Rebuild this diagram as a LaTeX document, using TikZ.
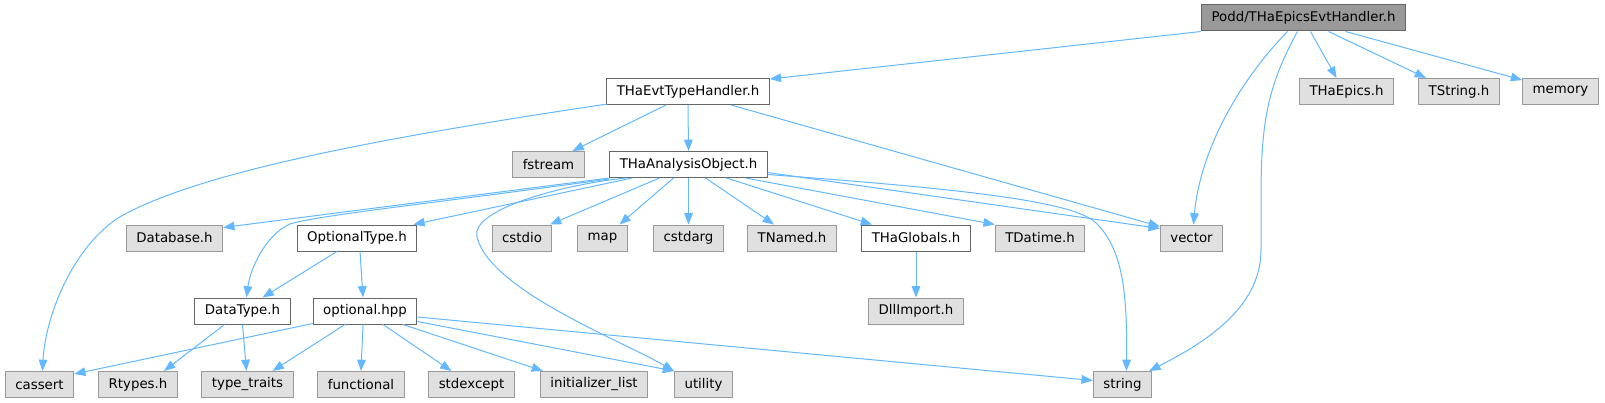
\documentclass[tikz,border=0pt]{standalone}
\usepackage{fontspec}
\setmainfont{DejaVu Sans}
\usepackage{tikz}
\usetikzlibrary{arrows.meta,calc}

\definecolor{incblue}{HTML}{63B8FF}
\definecolor{sysfill}{HTML}{E0E0E0}
\definecolor{sysline}{HTML}{999999}
\definecolor{projline}{HTML}{666666}

\tikzset{
  hfile/.style={draw, line width=0.75pt, inner xsep=7.5pt, inner ysep=0pt,
    minimum height=19.5pt, anchor=center},
  sysfile/.style={hfile, draw=sysline, fill=sysfill},
  projfile/.style={hfile, draw=projline, fill=white},
  rootfile/.style={hfile, draw=projline, fill=sysline},
  incl/.style={draw=incblue, line width=0.75pt,
    -{Triangle[length=8.5pt,width=6.5pt]}}
}

\begin{document}
\begin{tikzpicture}[x=0.75pt,y=-0.75pt,font=\fontsize{10}{12}\selectfont]
  \useasboundingbox (0,0) rectangle (1605,403);

  \node[rootfile] (root) at (1303.5,18) {Podd/THaEpicsEvtHandler.h};

  \node[projfile] (evttype) at (688,91.5) {THaEvtTypeHandler.h};
  \node[sysfile] (epics) at (1346.5,91.5) {THaEpics.h};
  \node[sysfile] (tstring) at (1459,91.5) {TString.h};
  \node[sysfile] (memory) at (1560.5,91.5) {memory};

  \node[sysfile] (fstream) at (548.5,164.5) {fstream};
  \node[projfile] (anaobj) at (688.5,164.5) {THaAnalysisObject.h};

  \node[sysfile] (database) at (174.5,238) {Database.h};
  \node[projfile] (opttype) at (357,238) {OptionalType.h};
  \node[sysfile] (cstdio) at (522,238) {cstdio};
  \node[sysfile] (map) at (602.5,238) {map};
  \node[sysfile] (cstdarg) at (688.5,238) {cstdarg};
  \node[sysfile] (tnamed) at (792,238) {TNamed.h};
  \node[projfile] (globals) at (916,238) {THaGlobals.h};
  \node[sysfile] (tdatime) at (1040,238) {TDatime.h};
  \node[sysfile] (vector) at (1191.5,238) {vector};

  \node[projfile] (datatype) at (242.5,311) {DataType.h};
  \node[projfile] (optional) at (365,311) {optional.hpp};
  \node[sysfile] (dllimport) at (916,311) {DllImport.h};

  \node[sysfile] (cassert) at (39.5,384.5) {cassert};
  \node[sysfile] (rtypes) at (138,384.5) {Rtypes.h};
  \node[sysfile] (typetraits) at (247.5,384.5) {type\_traits};
  \node[sysfile] (functional) at (361,384.5) {functional};
  \node[sysfile] (stdexcept) at (471.5,384.5) {stdexcept};
  \node[sysfile] (initlist) at (594,384.5) {initializer\_list};
  \node[sysfile] (utility) at (703.5,384.5) {utility};
  \node[sysfile] (string) at (1122.5,384.5) {string};

  \draw[incl] (root.south west) -- ($(evttype.north east)+(0,1)$);
  \draw[incl] ($(root.south)+(-16,0)$) .. controls (1240,80) and (1200,150) .. ($(vector.north)+(2,0)$);
  \draw[incl] ($(root.south)+(-6,0)$) .. controls (1265,90) and (1261,130) .. (1261,200)
    -- (1261,250) .. controls (1261,310) and (1200,345) .. ($(string.north east)+(-3,0)$);
  \draw[incl] ($(root.south)+(7,0)$) -- ($(epics.north)+(-10,0)$);
  \draw[incl] ($(root.south)+(25,0)$) -- ($(tstring.north)+(-33,0)$);
  \draw[incl] ($(root.south)+(42,0)$) -- ($(memory.north west)+(0,2)$);

  \draw[incl] ($(evttype.south west)+(1,-1)$) .. controls (400,135) and (200,170) .. (118,218)
    .. controls (70,250) and (45,320) .. ($(cassert.north)+(3,0)$);
  \draw[incl] ($(evttype.south)+(-22,0)$) -- ($(fstream.north)+(24,0)$);
  \draw[incl] (evttype.south) -- (anaobj.north);
  \draw[incl] ($(evttype.south)+(43,0)$) -- ($(vector.north west)+(0,2)$);

  \draw[incl] (anaobj.south west) -- ($(database.north east)+(0,3)$);
  \draw[incl] ($(anaobj.south west)+(0,1)$) .. controls (420,205) and (320,215) .. (290,224)
    .. controls (265,235) and (250,270) .. ($(datatype.north)+(4,0)$);
  \draw[incl] ($(anaobj.south west)+(23,0)$) -- ($(opttype.north east)+(-4,0)$);
  \draw[incl] ($(anaobj.south)+(-63,0)$) .. controls (560,185) and (470,210) .. (477,237)
    .. controls (490,290) and (620,340) .. (utility.north west);
  \draw[incl] ($(anaobj.south)+(-29,0)$) -- ($(cstdio.north)+(28,0)$);
  \draw[incl] ($(anaobj.south)+(-15,0)$) -- ($(map.north)+(17,0)$);
  \draw[incl] (anaobj.south) -- (cstdarg.north);
  \draw[incl] ($(anaobj.south)+(17,0)$) -- ($(tnamed.north)+(-18,0)$);
  \draw[incl] ($(anaobj.south)+(38,0)$) -- ($(globals.north)+(-44,0)$);
  \draw[incl] ($(anaobj.south)+(57,0)$) -- (tdatime.north west);
  \draw[incl] ($(anaobj.east)+(0,8)$) -- ($(vector.north west)+(0,4)$);
  \draw[incl] ($(anaobj.east)+(0,10)$) .. controls (950,188) and (1070,200) .. (1095,222)
    .. controls (1125,250) and (1127,300) .. ($(string.north)+(4,0)$);

  \draw[incl] ($(opttype.south)+(-20,0)$) -- ($(datatype.north)+(20,0)$);
  \draw[incl] ($(opttype.south)+(3,0)$) -- ($(optional.north)+(-2,0)$);

  \draw[incl] ($(datatype.south)+(-18,0)$) -- ($(rtypes.north)+(26,0)$);
  \draw[incl] (datatype.south) -- ($(typetraits.north)+(-1,0)$);

  \draw[incl] ($(optional.south west)+(0,-1)$) -- ($(cassert.north east)+(0,3)$);
  \draw[incl] ($(optional.south)+(-20,0)$) -- ($(typetraits.north)+(25,0)$);
  \draw[incl] ($(optional.south)+(-2,0)$) -- (functional.north);
  \draw[incl] ($(optional.south)+(18,0)$) -- ($(stdexcept.north)+(-20,0)$);
  \draw[incl] ($(optional.south)+(38,0)$) -- ($(initlist.north)+(-51,0)$);
  \draw[incl] ($(optional.south east)+(0,-3)$) -- (utility.north west);
  \draw[incl] ($(optional.east)+(0,6)$) -- ($(string.west)+(0,-4)$);

  \draw[incl] (globals.south) -- (dllimport.north);
\end{tikzpicture}
\end{document}
